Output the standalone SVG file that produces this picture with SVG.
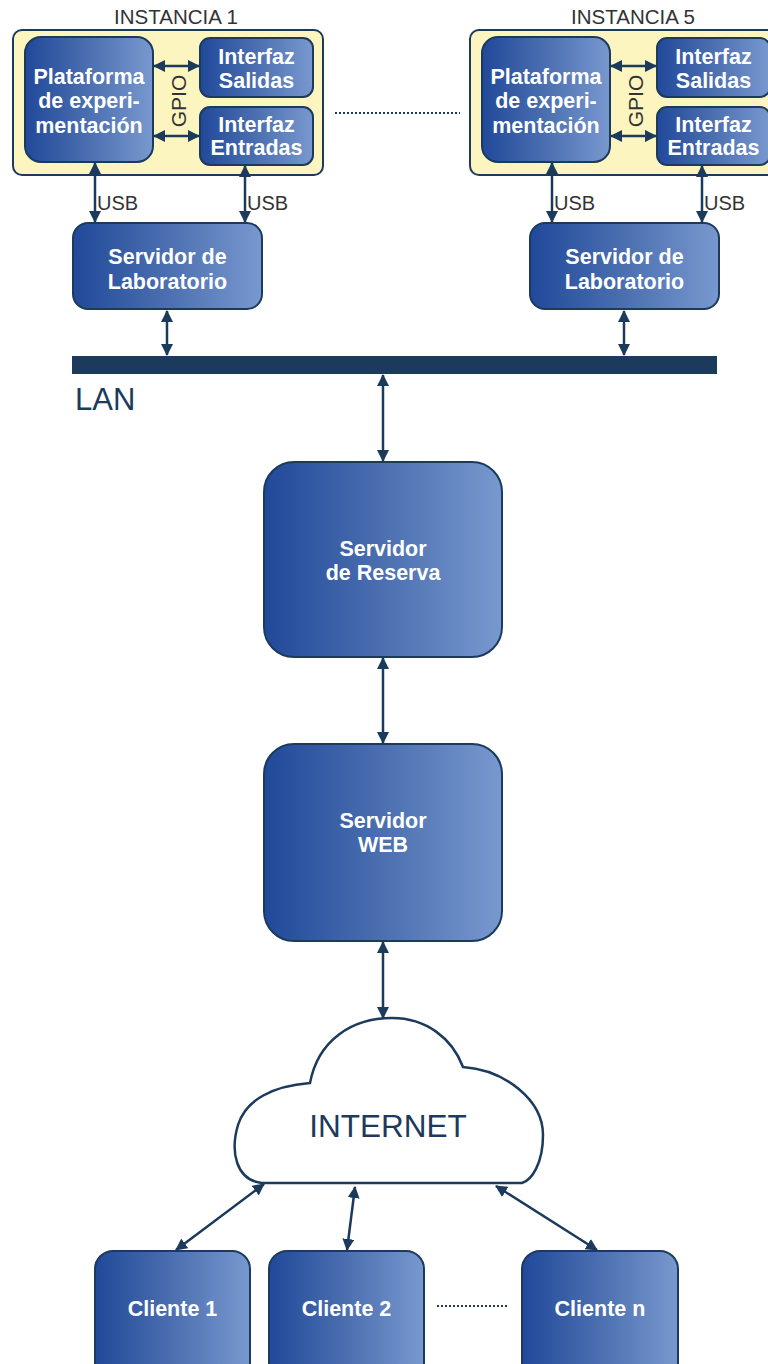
<svg xmlns="http://www.w3.org/2000/svg" width="768" height="1364" viewBox="0 0 768 1364">
  <defs>
    <linearGradient id="blueGrad" x1="0" y1="0" x2="1" y2="0">
      <stop offset="0" stop-color="#21499a"/>
      <stop offset="0.5" stop-color="#4b6fb0"/>
      <stop offset="1" stop-color="#7898cf"/>
    </linearGradient>
    <marker id="head" viewBox="0 0 12 12" refX="11" refY="6" markerWidth="12" markerHeight="12" markerUnits="userSpaceOnUse" orient="auto-start-reverse">
      <path d="M0,0 L12,6 L0,12 Z" fill="#1b3a5c"/>
    </marker>
    <style>
      .box { fill: url(#blueGrad); stroke: #1b3a5c; stroke-width: 2; }
      .panel { fill: #fcf5c0; stroke: #1b3a5c; stroke-width: 2; }
      .lbl { font-family: "Liberation Sans", Arial, sans-serif; font-weight: bold; font-size: 21.5px; fill: #ffffff; text-anchor: middle; }
      .plain { font-family: "Liberation Sans", Arial, sans-serif; fill: #333333; }
      .conn { stroke: #1b3a5c; stroke-width: 2.5; fill: none; marker-start: url(#head); marker-end: url(#head); }
      .dots { stroke: #1b3a5c; stroke-width: 2; stroke-dasharray: 2 2; fill: none; }
    </style>
    <!-- one laboratory instance: panel, platform, interfaces, USB links, lab server -->
    <g id="instance">
      <rect class="panel" x="13" y="30" width="310" height="145" rx="9"/>
      <rect class="box" x="25" y="37" width="128" height="125" rx="16"/>
      <text class="lbl" x="89" y="84">Plataforma</text>
      <text class="lbl" x="89" y="108">de experi-</text>
      <text class="lbl" x="89" y="133">mentación</text>
      <rect class="box" x="200" y="38" width="113" height="59" rx="10"/>
      <text class="lbl" x="256.5" y="64">Interfaz</text>
      <text class="lbl" x="256.5" y="88">Salidas</text>
      <rect class="box" x="200" y="107" width="113" height="58" rx="10"/>
      <text class="lbl" x="256.5" y="132">Interfaz</text>
      <text class="lbl" x="256.5" y="155">Entradas</text>
      <line class="conn" x1="154" y1="66" x2="199" y2="66"/>
      <line class="conn" x1="154" y1="136" x2="199" y2="136"/>
      <text class="plain" font-size="21" text-anchor="middle" transform="translate(186,101) rotate(-90)">GPIO</text>
      <line class="conn" x1="95" y1="163" x2="95" y2="222"/>
      <line class="conn" x1="245" y1="166" x2="245" y2="222"/>
      <text class="plain" font-size="20" x="97" y="210">USB</text>
      <text class="plain" font-size="20" x="247" y="210">USB</text>
      <rect class="box" x="73" y="223" width="189" height="86" rx="15"/>
      <text class="lbl" x="167.5" y="264">Servidor de</text>
      <text class="lbl" x="167.5" y="289">Laboratorio</text>
    </g>
  </defs>

  <g id="instancia-1">
    <text class="plain" font-size="20.5" x="176" y="24" text-anchor="middle">INSTANCIA 1</text>
    <use href="#instance"/>
  </g>

  <g id="instancia-5">
    <text class="plain" font-size="20.5" x="633" y="24" text-anchor="middle">INSTANCIA 5</text>
    <use href="#instance" transform="translate(457,0)"/>
  </g>

  <g id="lan">
    <rect x="72" y="356" width="645" height="18" fill="#1b3a5c"/>
    <text font-family="'Liberation Sans', Arial, sans-serif" font-size="31" fill="#1b3a5c" x="75" y="410">LAN</text>
  </g>

  <g id="servidor-reserva">
    <rect class="box" x="264" y="462" width="238" height="195" rx="30"/>
    <text class="lbl" x="383" y="556">Servidor</text>
    <text class="lbl" x="383" y="580">de Reserva</text>
  </g>

  <g id="servidor-web">
    <rect class="box" x="264" y="744" width="238" height="197" rx="30"/>
    <text class="lbl" x="383" y="828">Servidor</text>
    <text class="lbl" x="383" y="852">WEB</text>
  </g>

  <g id="internet">
    <path d="M262 1183 C236 1180 230 1152 238 1125 C246 1100 272 1086 310 1083 C318 1040 352 1018 392 1018 C426 1018 452 1038 463 1067 C505 1070 543 1100 543 1135 C543 1163 532 1180 522 1183 Z" fill="#ffffff" stroke="#1b3a5c" stroke-width="2.5"/>
    <text font-family="'Liberation Sans', Arial, sans-serif" font-size="31.5" fill="#1b3a5c" x="388" y="1137" text-anchor="middle">INTERNET</text>
  </g>

  <g id="cliente-1">
    <rect class="box" x="95" y="1251" width="155" height="130" rx="18"/>
    <text class="lbl" x="172.5" y="1316">Cliente 1</text>
  </g>
  <g id="cliente-2">
    <rect class="box" x="269" y="1251" width="155" height="130" rx="18"/>
    <text class="lbl" x="346.5" y="1316">Cliente 2</text>
  </g>
  <g id="cliente-n">
    <rect class="box" x="522" y="1251" width="156" height="130" rx="18"/>
    <text class="lbl" x="600" y="1316">Cliente n</text>
  </g>

  <g id="connectors">
    <line class="dots" x1="335" y1="113" x2="460" y2="113"/>
    <line class="conn" x1="167" y1="311" x2="167" y2="355"/>
    <line class="conn" x1="624" y1="311" x2="624" y2="355"/>
    <line class="conn" x1="383" y1="375" x2="383" y2="461"/>
    <line class="conn" x1="383" y1="658" x2="383" y2="743"/>
    <line class="conn" x1="383" y1="942" x2="383" y2="1018"/>
    <line class="conn" x1="264" y1="1184" x2="176" y2="1250"/>
    <line class="conn" x1="355" y1="1187" x2="347" y2="1250"/>
    <line class="conn" x1="496" y1="1186" x2="597" y2="1250"/>
    <line class="dots" x1="437" y1="1306" x2="509" y2="1306"/>
  </g>
</svg>
